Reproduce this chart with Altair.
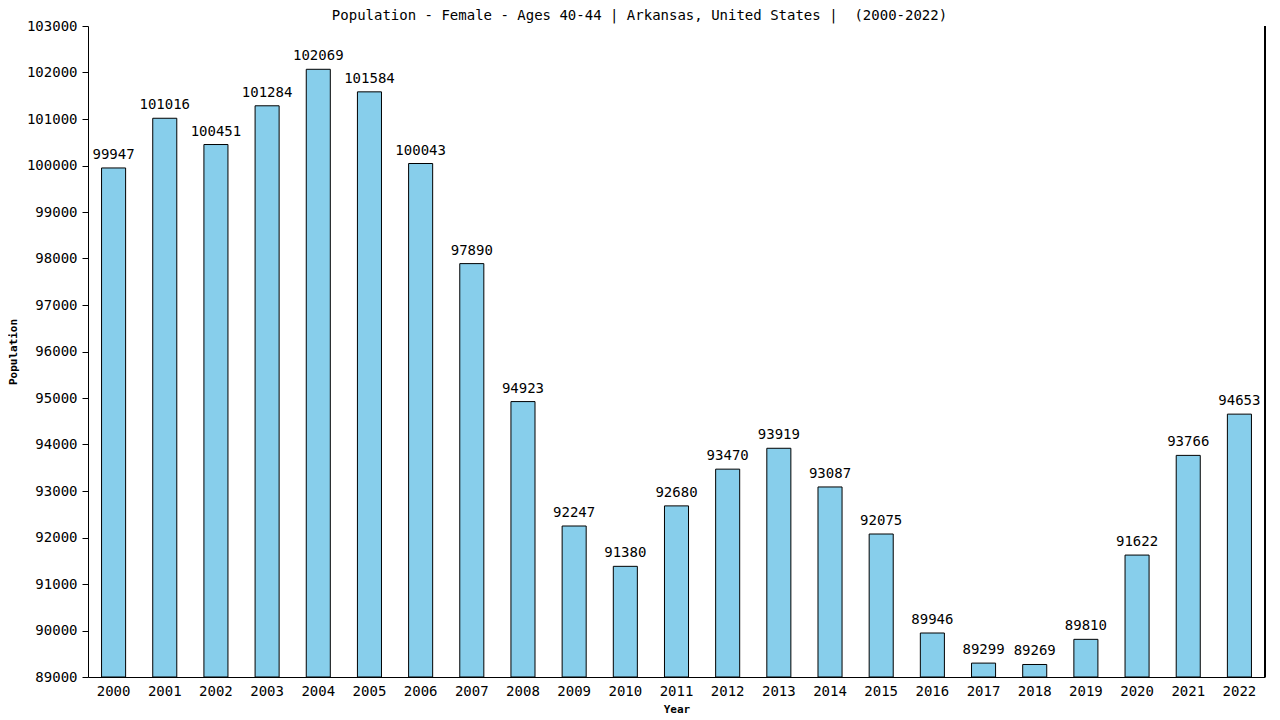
import altair as alt
import pandas as pd

years = [str(y) for y in range(2000, 2023)]
values = [99947, 101016, 100451, 101284, 102069, 101584, 100043, 97890, 94923,
          92247, 91380, 92680, 93470, 93919, 93087, 92075, 89946, 89299, 89269,
          89810, 91622, 93766, 94653]
y_ticks = list(range(89000, 103001, 1000))
title_text = ["Population - Female - Ages 40-44 | Arkansas, United States | \u00a0(2000-2022)"]

df = pd.DataFrame({"Year": years, "Population": values})
tdf = pd.DataFrame({"t": title_text})

W, H = 1177, 651
FONT = "DejaVu Sans Mono"

xenc = alt.X("Year:N", title="Year",
             scale=alt.Scale(paddingInner=0.53, paddingOuter=0.265),
             axis=alt.Axis(labelAngle=0, ticks=False, labelPadding=7,
                           labelFont=FONT, labelFontSize=14, labelColor="black",
                           titleFont=FONT, titleFontSize=11, titleFontWeight="bold",
                           titlePadding=5, titleColor="black",
                           domainColor="black"))
yscale = alt.Scale(domain=[89000, 103000], nice=False, zero=False)

bars = alt.Chart(df).mark_bar(color="#87CEEB", stroke="black", strokeWidth=1).encode(
    x=xenc,
    y=alt.Y("Population:Q", title="Population", scale=yscale,
            axis=alt.Axis(values=y_ticks, format="d", grid=False, tickSize=6, labelPadding=5,
                          labelFont=FONT, labelFontSize=14, labelColor="black",
                          titleFont=FONT, titleFontSize=11, titleFontWeight="bold",
                          titlePadding=8, titleColor="black",
                          domainColor="black", tickColor="black")),
    y2=alt.datum(89000),
)

labels = alt.Chart(df).mark_text(font=FONT, fontSize=14, baseline="bottom", dy=-6,
                                 color="black").encode(
    x=alt.X("Year:N"),
    y=alt.Y("Population:Q", scale=yscale),
    text=alt.Text("Population:Q", format="d"),
)

border = alt.Chart(df).mark_rule(color="black", strokeWidth=1).encode(
    x=alt.value(W), y=alt.value(0), y2=alt.value(H)
)

title = alt.Chart(tdf).mark_text(font=FONT, fontSize=14, baseline="alphabetic",
                                 align="center", color="black").encode(
    x=alt.value(W / 2 - 37), y=alt.value(-6), text="t:N"
)

chart = alt.layer(bars, labels, border, title).properties(
    width=W, height=H,
    autosize=alt.AutoSizeParams(type="none"),
    padding={"left": 80, "top": 18, "right": 7, "bottom": 42},
).configure_view(stroke=None)

chart.save("out.html", embed_options={"renderer": "svg", "actions": False})
